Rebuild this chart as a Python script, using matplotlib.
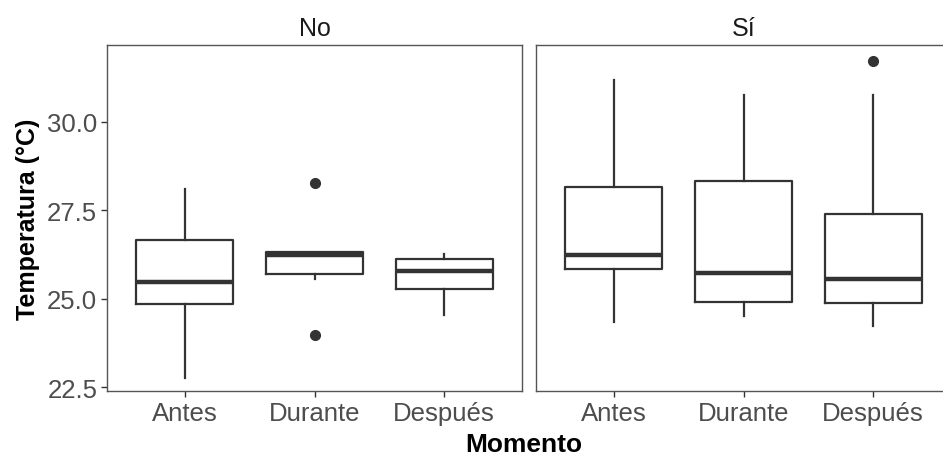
import matplotlib
matplotlib.use("Agg")
import matplotlib.pyplot as plt

plt.rcParams['font.family'] = ['Liberation Sans', 'DejaVu Sans']

facets = ['No', 'Sí']
momentos = ['Antes', 'Durante', 'Después']

# box stats: whislo, q1, med, q3, whishi, outliers
no_whislo = [22.78, 25.57, 24.55]
no_q1 = [24.86, 25.69, 25.28]
no_med = [25.47, 26.23, 25.78]
no_q3 = [26.67, 26.32, 26.13]
no_whishi = [28.11, 26.32, 26.27]
no_fliers = [[], [28.28, 23.98], []]

si_whislo = [24.36, 24.53, 24.24]
si_q1 = [25.85, 24.92, 24.88]
si_med = [26.25, 25.73, 25.55]
si_q3 = [28.16, 28.32, 27.41]
si_whishi = [31.18, 30.75, 30.75]
si_fliers = [[], [], [31.73]]

def make_stats(lo, q1, med, q3, hi, fl):
    return [dict(label=m, whislo=lo[i], q1=q1[i], med=med[i], q3=q3[i],
                 whishi=hi[i], fliers=fl[i]) for i, m in enumerate(momentos)]

stats = [make_stats(no_whislo, no_q1, no_med, no_q3, no_whishi, no_fliers),
         make_stats(si_whislo, si_q1, si_med, si_q3, si_whishi, si_fliers)]

fig = plt.figure(figsize=(9.43, 4.56), dpi=100)
lefts = [107 / 943, 536 / 943]
w = 415 / 943
bottom = 1 - 392 / 456
h = (392 - 46) / 456
dark = '#333333'

for k in range(2):
    ax = fig.add_axes([lefts[k], bottom, w, h])
    ax.bxp(stats[k], positions=[1, 2, 3], widths=0.75, showcaps=False,
           boxprops=dict(color=dark, linewidth=1.6),
           whiskerprops=dict(color=dark, linewidth=1.6),
           medianprops=dict(color=dark, linewidth=3.2),
           flierprops=dict(marker='o', markerfacecolor=dark, markeredgecolor=dark,
                           markersize=7))
    ax.set_xlim(0.4, 3.6)
    ax.set_ylim(22.4, 32.17)
    ax.set_yticks([22.5, 25.0, 27.5, 30.0])
    ax.set_xticks([1, 2, 3])
    ax.set_xticklabels(momentos)
    for s in ax.spines.values():
        s.set_color('#555555')
        s.set_linewidth(1.0)
    ax.tick_params(colors='#333333', labelcolor='#4d4d4d', labelsize=18.5,
                   length=4, width=1, pad=3)
    ax.set_title(facets[k], fontsize=18, color='#1a1a1a', pad=7)
    if k == 0:
        ax.set_yticklabels(['22.5', '25.0', '27.5', '30.0'])
        ax.set_ylabel('Temperatura (°C)', fontsize=18, fontweight='bold', labelpad=5)
    else:
        ax.tick_params(axis='y', left=False, labelleft=False)

fig.text((107 + 940) / 2 / 943, 1 - 445 / 456, 'Momento', ha='center', va='center',
         fontsize=19, fontweight='bold')

fig.savefig('out.png', dpi=100)
